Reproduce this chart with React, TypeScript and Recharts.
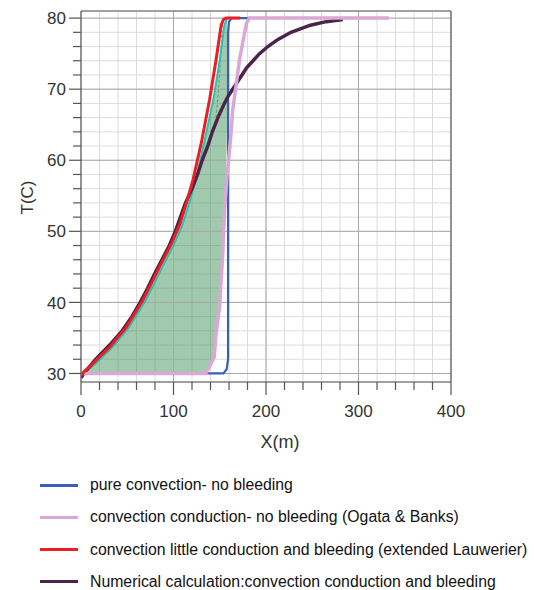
import React from 'react';
import {
  ComposedChart,
  Line,
  Area,
  XAxis,
  YAxis,
  CartesianGrid,
  ReferenceLine,
} from 'recharts';

// tick values
const xTicks = [0, 20, 40, 60, 80, 100, 120, 140, 160, 180, 200, 220, 240, 260, 280, 300, 320, 340, 360, 380, 400];
const yTicks = [30, 32, 34, 36, 38, 40, 42, 44, 46, 48, 50, 52, 54, 56, 58, 60, 62, 64, 66, 68, 70, 72, 74, 76, 78, 80];
const xMajor = [100, 200, 300];
const yMajor = [30, 40, 50, 60, 70, 80];

// pure convection - no bleeding
const blueX = [0, 154, 157.5, 159, 159, 160, 163, 183];
const blueT = [30, 30, 30.6, 32, 78, 79.5, 80, 80];

// convection conduction - no bleeding (Ogata & Banks)
const pinkX = [0, 135, 139, 144, 146, 149.8, 153.4, 155.2, 158, 161.6, 164, 167, 171.3, 176.7, 179, 182, 333];
const pinkT = [30, 30, 31, 32.3, 35.6, 39.3, 47.3, 53, 58, 62.8, 67, 69.9, 74.1, 77.8, 79.3, 80, 80];

// convection little conduction and bleeding (extended Lauwerier)
const redX = [1, 3, 13, 31, 49, 67, 85, 98, 107, 114, 121, 130, 139, 146, 151.5, 154, 157, 172];
const redT = [29.8, 30.2, 31.4, 33.7, 36.5, 40.3, 45, 48.3, 51, 54, 57.2, 62.4, 68.5, 74.1, 79, 79.8, 80, 80];

// numerical calculation
const numX = [0, 3, 9.5, 16, 31, 44.5, 55, 64, 72, 79.5, 87.5, 95.5, 102, 107.5, 113, 120, 126, 131, 137, 142, 148, 155, 159, 164, 169, 174, 179, 186, 193, 202, 213, 227, 248, 265, 283];
const numT = [29.4, 30, 31, 32, 34, 36, 38, 40, 42, 44, 46, 48, 50, 52, 54, 56, 58, 60, 62, 64, 66, 68, 69, 70, 71, 72, 73, 74, 75, 76, 77, 78, 79, 79.5, 79.8];

// unlabelled cyan curve at the left edge of the shaded region
const cyanX = [0, 5, 16, 34, 52, 70, 88, 101, 110, 117, 124, 133, 143, 150, 155, 158, 180];
const cyanT = [29.6, 30.3, 31.4, 33.7, 36.5, 40.3, 45, 48.3, 51, 54, 57.2, 62.4, 68.5, 74.1, 79, 80, 80];

// shaded region between the curves
const bandT = [30, 31.4, 33.7, 36.5, 40.3, 45, 48.3, 51, 54, 57.2, 62.4, 68.5, 74.1, 79, 80];
const bandLeft = [2, 16, 34, 52, 70, 88, 101, 110, 117, 124, 133, 143, 150, 155, 158];
const bandRight = [135, 141, 145, 147, 150, 152, 153.5, 154.5, 155, 156.5, 157.5, 158, 158, 158, 158];

// dashed line inside the shaded region
const dashX = [146, 149, 151, 153];
const dashT = [66, 70.5, 75, 79.5];

const toRows = (xs: number[], ts: number[]) => xs.map((x, i) => ({ T: ts[i], x }));

const blueData = toRows(blueX, blueT);
const pinkData = toRows(pinkX, pinkT);
const redData = toRows(redX, redT);
const numData = toRows(numX, numT);
const cyanData = toRows(cyanX, cyanT);
const dashData = toRows(dashX, dashT);
const bandData = bandT.map((T, i) => ({ T, range: [bandLeft[i], bandRight[i]] }));

const FONT = "'Liberation Sans', Arial, sans-serif";
const AXIS = '#555';

const legendItems = [
  { color: '#3a5fb5', label: 'pure convection- no bleeding' },
  { color: '#dba7d6', label: 'convection conduction- no bleeding (Ogata & Banks)' },
  { color: '#ee1d24', label: 'convection little conduction and bleeding (extended Lauwerier)' },
  { color: '#4b2548', label: 'Numerical calculation:convection conduction and bleeding' },
];

const YTick = (props: any) => {
  const { x, y, payload } = props;
  const major = payload.value % 10 === 0;
  return (
    <g>
      <line x1={x - (major ? 12 : 8)} x2={x} y1={y} y2={y} stroke={AXIS} strokeWidth={1.2} />
      {major && (
        <text x={x - 15} y={y} dy="0.36em" textAnchor="end" fontSize={17} fill="#333" fontFamily={FONT}>
          {payload.value}
        </text>
      )}
    </g>
  );
};

const XTick = (props: any) => {
  const { x, y, payload } = props;
  const major = payload.value % 100 === 0;
  return (
    <g>
      <line x1={x} x2={x} y1={y} y2={y + (major ? 13 : 8)} stroke={AXIS} strokeWidth={1.2} />
      {major && (
        <text x={x} y={y + 35} textAnchor="middle" fontSize={17} fill="#333" fontFamily={FONT}>
          {payload.value}
        </text>
      )}
    </g>
  );
};

const XTitle = (props: any) => {
  const vb = props.viewBox;
  return (
    <text x={vb.x + vb.width / 2 + 14} y={vb.y + 66} textAnchor="middle" fontSize={18} fill="#333" fontFamily={FONT}>
      X(m)
    </text>
  );
};

const YTitle = (props: any) => {
  const vb = props.viewBox;
  const cx = 27;
  const cy = vb.y + vb.height / 2 + 1;
  return (
    <text
      x={cx}
      y={cy}
      dy="0.36em"
      textAnchor="middle"
      fontSize={17}
      fill="#333"
      fontFamily={FONT}
      transform={`rotate(-90, ${cx}, ${cy})`}
    >
      T(C)
    </text>
  );
};

export default function App() {
  return (
    <div style={{ position: 'absolute', left: 0, top: 0, width: 534, height: 590, background: '#fff' }}>
      <ComposedChart
        width={534}
        height={460}
        layout="vertical"
        margin={{ top: 11, right: 83, left: 0, bottom: 48 }}
      >
        <CartesianGrid stroke="#dcdcdc" strokeWidth={1} />
        <XAxis
          type="number"
          dataKey="x"
          domain={[0, 400]}
          ticks={xTicks}
          interval={0}
          allowDataOverflow
          height={30}
          tickSize={0}
          tickMargin={0}
          tickLine={false}
          stroke={AXIS}
          strokeWidth={1.2}
          tick={<XTick />}
          label={<XTitle />}
        />
        <YAxis
          type="number"
          dataKey="T"
          domain={[28.8, 81]}
          ticks={yTicks}
          interval={0}
          allowDataOverflow
          reversed
          width={81}
          tickSize={0}
          tickMargin={0}
          tickLine={false}
          stroke={AXIS}
          strokeWidth={1.2}
          tick={<YTick />}
          label={<YTitle />}
        />
        {xMajor.map((v) => (
          <ReferenceLine key={'xm' + v} x={v} stroke="#a8a8a8" strokeWidth={1} />
        ))}
        {yMajor.map((v) => (
          <ReferenceLine key={'ym' + v} y={v} stroke="#a8a8a8" strokeWidth={1} />
        ))}
        <ReferenceLine x={400} stroke={AXIS} strokeWidth={1.2} />
        <ReferenceLine y={81} stroke={AXIS} strokeWidth={1.2} />
        <Area
          data={bandData}
          dataKey="range"
          type="linear"
          stroke="none"
          fill="#3a8f55"
          fillOpacity={0.48}
          isAnimationActive={false}
        />
        <Line
          data={dashData}
          dataKey="x"
          type="linear"
          stroke="#5f9f6c"
          strokeWidth={1}
          strokeDasharray="3 2"
          dot={false}
          isAnimationActive={false}
        />
        <Line data={cyanData} dataKey="x" type="linear" stroke="#22c4b4" strokeWidth={2} dot={false} isAnimationActive={false} />
        <Line data={blueData} dataKey="x" type="linear" stroke="#3a5fb5" strokeWidth={2.2} dot={false} isAnimationActive={false} />
        <Line data={numData} dataKey="x" type="linear" stroke="#4b2548" strokeWidth={3.5} dot={false} isAnimationActive={false} />
        <Line data={pinkData} dataKey="x" type="linear" stroke="#dba7d6" strokeWidth={3.5} dot={false} isAnimationActive={false} />
        <Line data={redData} dataKey="x" type="linear" stroke="#ee1d24" strokeWidth={3} dot={false} isAnimationActive={false} />
      </ComposedChart>
      {legendItems.map((item, i) => (
        <div
          key={item.label}
          style={{
            position: 'absolute',
            left: 40,
            top: 485 + i * 32.3 - 10,
            height: 20,
            display: 'flex',
            alignItems: 'center',
            fontFamily: FONT,
            fontSize: 15.8,
            color: '#111',
            whiteSpace: 'nowrap',
          }}
        >
          <div style={{ width: 38, height: 3, background: item.color, marginRight: 12 }} />
          <span>{item.label}</span>
        </div>
      ))}
    </div>
  );
}
